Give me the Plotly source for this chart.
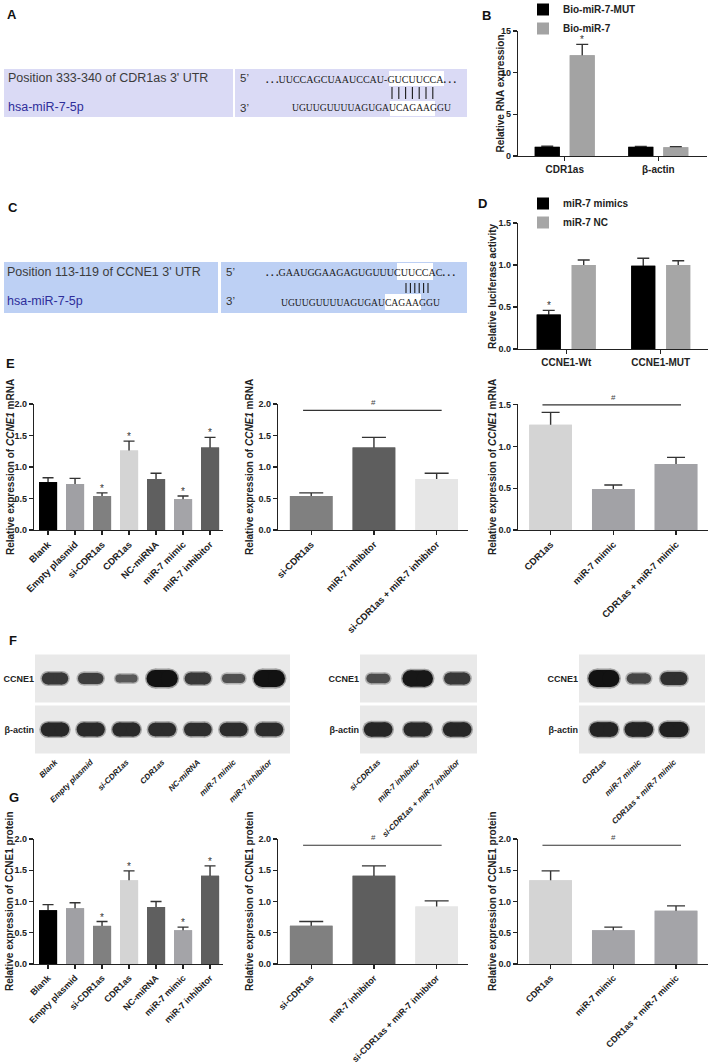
import plotly.graph_objects as go

W, H = 709, 1064
FONT = "Liberation Sans, Arial, sans-serif"
SERIF = "Liberation Serif, Times New Roman, serif"

# ---------------- data ----------------
b_groups = ["CDR1as", "β-actin"]
b_mut = [1.10, 1.10]
b_mut_err = [0.08, 0.06]
b_mir = [12.1, 1.05]
b_mir_err = [1.30, 0.08]
b_mir_sig = ["*", ""]

d_groups = ["CCNE1-Wt", "CCNE1-MUT"]
d_mimics = [0.41, 0.99]
d_mimics_err = [0.05, 0.09]
d_mimics_sig = ["*", ""]
d_nc = [1.00, 1.00]
d_nc_err = [0.06, 0.05]

e1_cats = ["Blank", "Empty plasmid", "si-CDR1as", "CDR1as", "NC-miRNA", "miR-7 mimic", "miR-7 inhibitor"]
e1_vals = [0.76, 0.73, 0.54, 1.26, 0.81, 0.49, 1.31]
e1_err = [0.07, 0.09, 0.05, 0.15, 0.09, 0.05, 0.16]
e1_sig = ["", "", "*", "*", "", "*", "*"]

e2_cats = ["si-CDR1as", "miR-7 inhibitor", "si-CDR1as + miR-7 inhibitor"]
e2_vals = [0.54, 1.31, 0.81]
e2_err = [0.05, 0.16, 0.09]

e3_cats = ["CDR1as", "miR-7 mimic", "CDR1as + miR-7 mimic"]
e3_vals = [1.26, 0.49, 0.79]
e3_err = [0.15, 0.05, 0.08]

g1_vals = [0.86, 0.89, 0.61, 1.34, 0.91, 0.54, 1.41]
g1_err = [0.09, 0.09, 0.07, 0.15, 0.09, 0.05, 0.16]
g1_sig = ["", "", "*", "*", "", "*", "*"]
g2_vals = [0.61, 1.41, 0.92]
g2_err = [0.07, 0.16, 0.09]
g3_vals = [1.34, 0.54, 0.85]
g3_err = [0.15, 0.05, 0.08]

blot_rows = ["β-actin", "CCNE1"]
f1_ccne1 = [0.62, 0.55, 0.30, 1.00, 0.62, 0.38, 1.00]
f1_actin = [0.78, 0.76, 0.76, 0.74, 0.72, 0.74, 0.74]
f2_ccne1 = [0.42, 0.95, 0.62]
f2_actin = [0.80, 0.78, 0.80]
f3_ccne1 = [1.00, 0.48, 0.70]
f3_actin = [0.82, 0.82, 0.86]

# ---------------- helpers ----------------
def fx(p):
    return p / W


def fy(p):
    return 1 - p / H


fig = go.Figure()
layout = {}
annotations = []
shapes = []
ERR = "#333333"
TXT = "#222222"


def axes(i, x0, x1, ytop, ybot):
    xs = "xaxis" if i == 1 else f"xaxis{i}"
    ys = "yaxis" if i == 1 else f"yaxis{i}"
    xr = "x" if i == 1 else f"x{i}"
    yr = "y" if i == 1 else f"y{i}"
    layout[xs] = dict(domain=[fx(x0), fx(x1)], anchor=yr, fixedrange=True, automargin=False)
    layout[ys] = dict(domain=[fy(ybot), fy(ytop)], anchor=xr, fixedrange=True, automargin=False)
    return xr, yr, xs, ys


def bar_axes(i, box, xrange, yrange, dtick, fmt, cats, angle, xsize):
    xr, yr, xs, ys = axes(i, *box)
    layout[xs].update(range=xrange, showline=True, linecolor=TXT, linewidth=1.2,
                      ticks="outside", ticklen=4, tickwidth=1.2, tickcolor=TXT,
                      tickvals=list(range(len(cats))), ticktext=cats, tickangle=angle,
                      tickfont=dict(family=FONT, size=xsize, weight="bold", color=TXT),
                      showgrid=False, zeroline=False)
    layout[ys].update(range=yrange, showline=True, linecolor=TXT, linewidth=1.2,
                      ticks="outside", ticklen=4, tickwidth=1.2, tickcolor=TXT,
                      dtick=dtick, tick0=0, tickformat=fmt,
                      tickfont=dict(family=FONT, size=9, weight="bold", color=TXT),
                      showgrid=False, zeroline=False)
    return xr, yr


def bars(xr, yr, vals, errs, colors, width, capw, offset=None, name=None,
         legend="legend", showlegend=False, sig=None):
    x = list(range(len(vals)))
    common = dict(x=x, y=vals, width=width, offset=offset,
                  marker=dict(color=colors, line=dict(width=0)),
                  xaxis=xr, yaxis=yr, hoverinfo="skip")
    fig.add_trace(go.Bar(**common, showlegend=False,
                         error_y=dict(type="data", array=errs, symmetric=True, color=ERR,
                                      thickness=1.4, width=capw)))
    fig.add_trace(go.Bar(**common, name=name, showlegend=showlegend, legend=legend))
    if sig:
        shift = 0 if offset is None else offset + width / 2
        for xi, v, e, s in zip(x, vals, errs, sig):
            if s:
                annotations.append(dict(x=xi + shift, y=v + e, xref=xr, yref=yr, text=s,
                                        showarrow=False, yanchor="bottom", yshift=-3,
                                        font=dict(family=FONT, size=10, color="#333")))


def bracket(xr, yr, n, y):
    shapes.append(dict(type="line", xref=xr, yref=yr, x0=-0.13, x1=n - 1 + 0.08,
                       y0=y, y1=y, line=dict(color="#333", width=1.2)))
    annotations.append(dict(x=(n - 1) / 2, y=y, xref=xr, yref=yr, text="#",
                            showarrow=False, yanchor="bottom", yshift=1,
                            font=dict(family=FONT, size=8, color="#444")))


def ytitle(text, x, y, size=10):
    annotations.append(dict(x=fx(x), y=fy(y), xref="paper", yref="paper", text=text,
                            textangle=-90, showarrow=False, xanchor="center", yanchor="middle",
                            font=dict(family=FONT, size=size, weight="bold", color=TXT)))


def blot(i, box, xrange, lanes, rows_int, hw):
    xr, yr, xs, ys = axes(i, *box)
    layout[xs].update(range=xrange, tickvals=list(range(len(lanes))), ticktext=lanes,
                      tickangle=-45, ticks="", showline=False, showgrid=False, zeroline=False,
                      tickfont=dict(family=FONT, size=8, style="italic", weight="bold", color=TXT))
    layout[ys].update(range=[-0.5, 1.5], tickvals=[0, 1], ticktext=blot_rows, ticks="",
                      showline=False, showgrid=False, zeroline=False,
                      tickfont=dict(family=FONT, size=9, weight="bold", color=TXT))
    for r in range(len(blot_rows)):
        shapes.append(dict(type="rect", xref=f"{xr} domain", yref=yr, x0=0, x1=1,
                           y0=r - 0.47, y1=r + 0.47, fillcolor="#e9e9e9",
                           line=dict(width=0), layer="below"))
    for r, intens in enumerate(rows_int):
        for lane, a in enumerate(intens):
            t = 4 + 13 * a
            g = int(18 + (1 - a) * 100)
            col = f"rgb({g},{g},{g})"
            xs_ = [lane - hw, lane + hw]
            fig.add_trace(go.Scatter(x=xs_, y=[r, r], mode="lines+markers", xaxis=xr, yaxis=yr,
                                     line=dict(color=col, width=t + 3),
                                     marker=dict(color=col, size=t + 3),
                                     opacity=0.35, showlegend=False, hoverinfo="skip"))
            fig.add_trace(go.Scatter(x=xs_, y=[r, r], mode="lines+markers", xaxis=xr, yaxis=yr,
                                     line=dict(color=col, width=t),
                                     marker=dict(color=col, size=t),
                                     showlegend=False, hoverinfo="skip"))


# ---------------- panel B ----------------
xr, yr = bar_axes(1, (518, 707, 31, 156), [-0.5, 1.52], [0, 15], 5, "d", b_groups, 0, 10)
bars(xr, yr, b_mut, b_mut_err, "#000000", 0.267, 6, offset=-0.321, name="Bio-miR-7-MUT",
     showlegend=True)
bars(xr, yr, b_mir, b_mir_err, "#a3a3a3", 0.267, 6, offset=0.053, name="Bio-miR-7",
     showlegend=True, sig=b_mir_sig)
ytitle("Relative RNA expression", 500, 93.5)

# ---------------- panel D ----------------
xr, yr = bar_axes(2, (518, 708, 223, 349), [-0.51, 1.50], [0, 1.5], 0.5, ".1f", d_groups, 0, 10)
bars(xr, yr, d_mimics, d_mimics_err, "#000000", 0.254, 6, offset=-0.312, name="miR-7 mimics",
     legend="legend2", showlegend=True, sig=d_mimics_sig)
bars(xr, yr, d_nc, d_nc_err, "#a6a6a6", 0.254, 6, offset=0.058, name="miR-7 NC",
     legend="legend2", showlegend=True)
ytitle("Relative luciferase activity", 492, 286)

# ---------------- panel E ----------------
col7 = ["#000000", "#a0a0a4", "#808080", "#d4d4d4", "#5f5f5f", "#a4a4a8", "#5e5e5e"]
col_e2 = ["#808080", "#5e5e5e", "#e6e6e6"]
col_e3 = ["#d4d4d4", "#a2a2a6", "#a2a2a6"]

xr, yr = bar_axes(3, (34, 223, 404, 530), [-0.52, 6.48], [0, 2], 0.5, ".1f", e1_cats, -45, 9.5)
bars(xr, yr, e1_vals, e1_err, col7, 0.67, 5.5, sig=e1_sig)
ytitle("Relative expression of <i>CCNE1</i> mRNA", 10, 467)

xr, yr = bar_axes(4, (278, 468, 404, 530), [-0.53, 2.5], [0, 2], 0.5, ".1f", e2_cats, -45, 9.5)
bars(xr, yr, e2_vals, e2_err, col_e2, 0.68, 12)
bracket(xr, yr, len(e2_cats), 1.9)
ytitle("Relative expression of <i>CCNE1</i> mRNA", 249, 467)

xr, yr = bar_axes(5, (518, 708, 404, 530), [-0.52, 2.51], [0, 1.51], 0.5, ".1f", e3_cats, -45, 9.5)
bars(xr, yr, e3_vals, e3_err, col_e3, 0.68, 9)
bracket(xr, yr, len(e3_cats), 1.5)
ytitle("Relative expression of <i>CCNE1</i> mRNA", 492, 467)

# ---------------- panel F ----------------
blot(6, (35, 290, 653, 755), [-0.56, 6.58], e1_cats, [f1_actin, f1_ccne1], 0.2)
blot(7, (360, 477, 653, 755), [-0.46, 2.5], e2_cats, [f2_actin, f2_ccne1], 0.18)
blot(8, (579, 705, 653, 755), [-0.71, 2.89], e3_cats, [f3_actin, f3_ccne1], 0.2)

# ---------------- panel G ----------------
col_g2 = ["#808080", "#5e5e5e", "#e6e6e6"]
col_g3 = ["#d4d4d4", "#a4a4a8", "#a4a4a8"]
xr, yr = bar_axes(9, (34, 223, 839, 964), [-0.52, 6.48], [0, 2], 0.5, ".1f", e1_cats, -45, 9)
bars(xr, yr, g1_vals, g1_err, col7, 0.67, 5.5, sig=g1_sig)
ytitle("Relative expression of CCNE1 protein", 9, 901)

xr, yr = bar_axes(10, (278, 468, 839, 964), [-0.53, 2.5], [0, 2], 0.5, ".1f", e2_cats, -45, 9)
bars(xr, yr, g2_vals, g2_err, col_g2, 0.68, 12)
bracket(xr, yr, len(e2_cats), 1.9)
ytitle("Relative expression of CCNE1 protein", 249, 901)

xr, yr = bar_axes(11, (518, 708, 839, 964), [-0.52, 2.51], [0, 2], 0.5, ".1f", e3_cats, -45, 9)
bars(xr, yr, g3_vals, g3_err, col_g3, 0.68, 9)
bracket(xr, yr, len(e3_cats), 1.9)
ytitle("Relative expression of CCNE1 protein", 492, 901)

# ---------------- panels A and C (sequence alignments) ----------------
def rect(x0, x1, y0, y1, color):
    shapes.append(dict(type="rect", xref="paper", yref="paper", x0=fx(x0), x1=fx(x1),
                       y0=fy(y1), y1=fy(y0), fillcolor=color, line=dict(width=0)))


def ticks_pair(x0, step, n, y0, y1):
    for k in range(n):
        xk = x0 + k * step
        shapes.append(dict(type="line", xref="paper", yref="paper", x0=fx(xk), x1=fx(xk),
                           y0=fy(y1), y1=fy(y0), line=dict(color="#1a1a1a", width=1.1)))


def text(t, x, y, size=12, color="#3c3c3c", family=FONT, anchor="left", weight="normal"):
    annotations.append(dict(x=fx(x), y=fy(y), xref="paper", yref="paper", text=t,
                            showarrow=False, xanchor=anchor, yanchor="middle",
                            font=dict(family=family, size=size, color=color, weight=weight)))


# A
rect(4, 233, 69, 117, "#dadaf5")
rect(235, 467, 69, 117, "#dadaf5")
rect(389, 444, 71, 86, "#ffffff")
rect(390, 435, 101, 116, "#ffffff")
text("Position 333-340 of CDR1as 3' UTR", 6, 78, 12.5)
text("hsa-miR-7-5p", 6, 107, 12.5, "#2e2e9a")
text("5’", 238, 78, 11.5, "#333")
text("3’", 238, 108, 11.5, "#333")
text("<b>. . .</b>UUCCAGCUAAUCCAU-GUCUUCCA<b>. . .</b>", 264, 79, 10, "#1a1a1a", SERIF)
ticks_pair(392, 6.8, 7, 87, 99)
text("UGUUGUUUUAGUGAUCAGAAGGU", 290, 108, 9.6, "#1a1a1a", SERIF)

# C
rect(4, 218, 262, 313, "#bdd0f4")
rect(221, 467, 262, 313, "#bdd0f4")
rect(397, 433, 263, 280, "#ffffff")
rect(385, 421, 294, 310, "#ffffff")
text("Position 113-119 of CCNE1 3' UTR", 5, 272, 12.5)
text("hsa-miR-7-5p", 5, 301, 12.5, "#2e2e9a")
text("5’", 224, 272, 11.5, "#333")
text("3’", 224, 301, 11.5, "#333")
text("<b>. . .</b>GAAUGGAAGAGUGUUUCUUCCAC<b>. . .</b>", 264, 273, 10, "#1a1a1a", SERIF)
ticks_pair(406, 4.4, 6, 283, 293)
text("UGUUGUUUUAGUGAUCAGAAGGU", 279, 302, 9.6, "#1a1a1a", SERIF)

# panel letters
for letter, x, y in [("A", 12, 14), ("B", 486, 15), ("C", 13, 207), ("D", 482, 204),
                     ("E", 10, 363), ("F", 13, 640), ("G", 14, 797)]:
    text(letter, x, y, 13, "#111", FONT, "center", "bold")

legend_font = dict(family=FONT, size=10, weight="bold", color=TXT)
fig.update_layout(
    width=W, height=H, autosize=False,
    margin=dict(l=0, r=0, t=0, b=0, pad=0, autoexpand=False),
    paper_bgcolor="white", plot_bgcolor="rgba(0,0,0,0)",
    barmode="overlay",
    showlegend=True,
    legend=dict(x=fx(523), y=fy(-5), xanchor="left", yanchor="top", font=legend_font,
                bgcolor="rgba(0,0,0,0)", tracegroupgap=0, itemwidth=30),
    legend2=dict(x=fx(523), y=fy(189), xanchor="left", yanchor="top", font=legend_font,
                 bgcolor="rgba(0,0,0,0)", tracegroupgap=0, itemwidth=30),
    annotations=annotations,
    shapes=shapes,
    **layout,
)

fig.write_html("out.html", config={"displayModeBar": False, "staticPlot": True},
               post_script="document.body.style.margin='0';document.body.style.overflow='hidden';")
